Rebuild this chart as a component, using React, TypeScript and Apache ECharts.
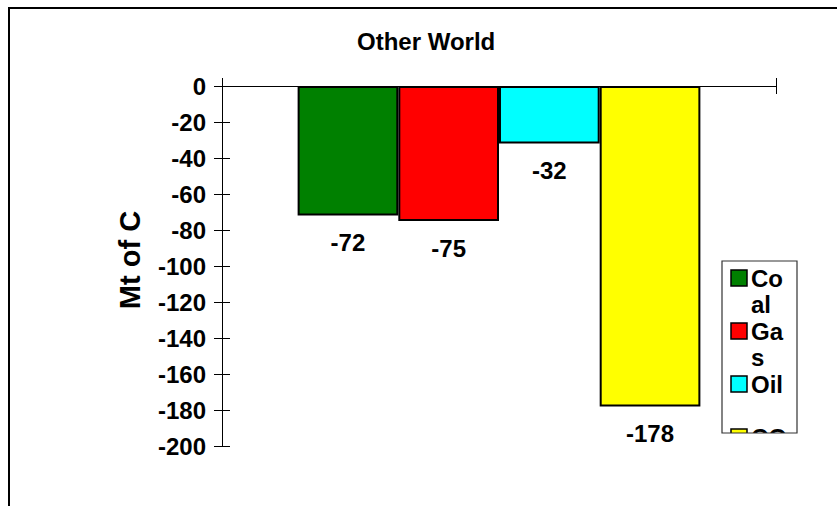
import React, { useEffect, useRef } from "react";
import * as echarts from "echarts";

// Chart content
const chartTitle = "Other World";
const categories = ["Other World"];
const seriesNames = ["Coal", "Gas", "Oil", "CO2"];
const seriesValues = [-72, -75, -32, -178];
const seriesColors = ["#008000", "#FF0000", "#00FFFF", "#FFFF00"];
const yAxisName = "Mt of C";
const yMin = -200;
const yMax = 0;
const yStep = 20;

const FONT = "Arial, 'Liberation Sans', Helvetica, sans-serif";

export default function App() {
  const ref = useRef<HTMLDivElement>(null);

  useEffect(() => {
    if (!ref.current) return;
    const chart = echarts.init(ref.current, undefined, { renderer: "svg" });

    const gridLeft = 222;
    const gridTop = 86;
    const gridWidth = 554;
    const gridHeight = 360;

    // Legend box (drawn as graphics so the wrapped names sit beside the swatches)
    const legendX = 722;
    const legendY = 261;
    const legendW = 75;
    const legendH = 172;
    const rowH = 53;
    const lineH = 26;
    const legendItems: any[] = [];
    seriesNames.forEach((name, i) => {
      const sy = legendY + 9 + i * rowH;
      legendItems.push({
        type: "rect",
        shape: { x: legendX + 9, y: sy, width: 16, height: 16 },
        style: { fill: seriesColors[i], stroke: "#000", lineWidth: 1.5 },
        z: 10,
      });
      legendItems.push({
        type: "text",
        x: legendX + 29,
        y: sy + 8 - lineH / 2,
        style: {
          text: name,
          width: 38,
          overflow: "breakAll",
          lineHeight: lineH,
          fontSize: 24,
          fontWeight: "bold",
          fontFamily: FONT,
          fill: "#000",
          verticalAlign: "top",
          align: "left",
        },
        z: 10,
      });
    });

    const yAxisBase = {
      type: "value",
      min: yMin,
      max: yMax,
      interval: yStep,
      position: "left",
      splitLine: { show: false },
    };

    const xAxisBase = {
      type: "category",
      data: categories,
      position: "top",
      boundaryGap: true,
      axisLabel: { show: false },
      splitLine: { show: false },
    };

    chart.setOption({
      animation: false,
      backgroundColor: "#fff",
      title: {
        text: chartTitle,
        left: 357,
        top: 29,
        padding: 0,
        textStyle: { fontSize: 24, fontWeight: "bold", fontFamily: FONT, color: "#000" },
      },
      grid: { left: gridLeft, top: gridTop, width: gridWidth, height: gridHeight },
      xAxis: [
        {
          ...xAxisBase,
          axisLine: { show: true, onZero: false, lineStyle: { color: "#000", width: 1 } },
          axisTick: { show: true, inside: false, length: 8, lineStyle: { color: "#000" } },
        },
        {
          ...xAxisBase,
          axisLine: { show: false, onZero: false },
          axisTick: { show: true, inside: true, length: 8, lineStyle: { color: "#000" } },
        },
      ],
      yAxis: [
        {
          ...yAxisBase,
          name: yAxisName,
          nameLocation: "middle",
          nameGap: 78,
          nameRotate: 90,
          nameTextStyle: {
            fontSize: 29,
            fontWeight: "bold",
            fontFamily: FONT,
            color: "#000",
            padding: [0, 0, 0, 12],
          },
          axisLine: { show: true, onZero: false, lineStyle: { color: "#000", width: 1 } },
          axisTick: { show: true, inside: false, length: 8, lineStyle: { color: "#000" } },
          axisLabel: {
            margin: 16,
            fontSize: 24,
            fontWeight: "bold",
            fontFamily: FONT,
            color: "#000",
          },
        },
        {
          ...yAxisBase,
          axisLine: { show: false, onZero: false },
          axisTick: { show: true, inside: true, length: 8, lineStyle: { color: "#000" } },
          axisLabel: { show: false },
        },
      ],
      series: seriesNames.map((name, i) => ({
        type: "bar",
        name,
        xAxisIndex: 0,
        yAxisIndex: 0,
        data: [seriesValues[i]],
        barGap: "0%",
        barCategoryGap: "27.3%",
        itemStyle: { color: seriesColors[i], borderColor: "#000", borderWidth: 2 },
        label: {
          show: true,
          position: "bottom",
          distance: 15,
          formatter: "{c}",
          fontSize: 24,
          fontWeight: "bold",
          fontFamily: FONT,
          color: "#000",
        },
      })),
      graphic: [
        // outer chart frame
        {
          type: "rect",
          shape: { x: 9, y: 8, width: 900, height: 600 },
          style: { fill: "none", stroke: "#000", lineWidth: 2 },
          z: 1,
        },
        ...legendItems,
        // the legend box cuts off whatever falls below it
        {
          type: "rect",
          shape: { x: legendX - 6, y: legendY + legendH, width: legendW + 14, height: 80 },
          style: { fill: "#fff" },
          z: 20,
        },
        {
          type: "rect",
          shape: { x: legendX, y: legendY, width: legendW, height: legendH },
          style: { fill: "none", stroke: "#333", lineWidth: 1.2 },
          z: 21,
        },
      ],
    });

    return () => chart.dispose();
  }, []);

  return (
    <div
      ref={ref}
      style={{ position: "fixed", left: 0, top: 0, width: 837, height: 506 }}
    />
  );
}
